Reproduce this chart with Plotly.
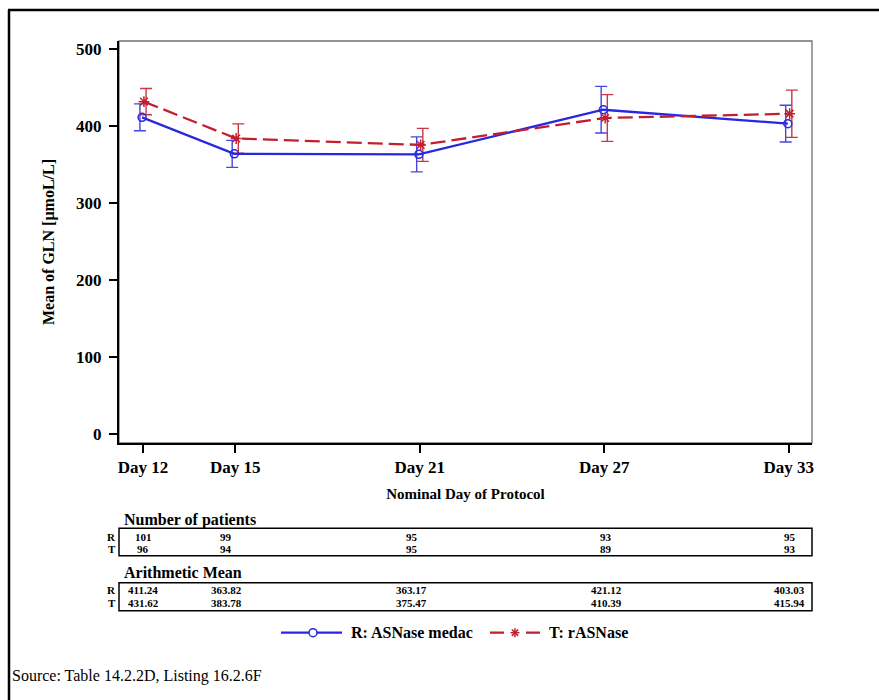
import plotly.graph_objects as go

# ---- data -------------------------------------------------------------
days = [12, 15, 21, 27, 33]
day_labels = ["Day 12", "Day 15", "Day 21", "Day 27", "Day 33"]

r_name = "R: ASNase medac"
t_name = "T: rASNase"

r_mean = [411.24, 363.82, 363.17, 421.12, 403.03]
t_mean = [431.62, 383.78, 375.47, 410.39, 415.94]

# half-width of the interval drawn around each mean
r_err = [17.5, 17.5, 22.7, 30.3, 23.9]
t_err = [17.0, 19.0, 21.4, 30.3, 30.7]

r_n = [101, 99, 95, 93, 95]
t_n = [96, 94, 95, 89, 93]

y_ticks = [0, 100, 200, 300, 400, 500]

# ---- layout constants (pixels) ---------------------------------------
W, H = 879, 700
L, R_EDGE, T_EDGE, B_EDGE = 119, 812, 41, 443
PW, PH = R_EDGE - L, B_EDGE - T_EDGE

FONT = "Liberation Serif"
BLUE = "rgb(40,40,225)"
BLUE_EB = "rgb(70,70,225)"
RED = "rgb(195,30,45)"
RED_EB = "rgb(200,55,70)"


def px_x(p):
    return (p - L) / PW


def px_y(p):
    return (B_EDGE - p) / PH


fig = go.Figure()

# error bars, slightly separated so both groups stay visible
for name, mean, err, col, dx in [(r_name, r_mean, r_err, BLUE_EB, -0.1),
                                 (t_name, t_mean, t_err, RED_EB, 0.1)]:
    fig.add_trace(go.Scatter(
        x=[d + dx for d in days], y=mean, mode="markers",
        marker=dict(size=1, opacity=0), showlegend=False, hoverinfo="skip",
        error_y=dict(type="data", array=err, visible=True, color=col,
                     thickness=1.4, width=6),
    ))

fig.add_trace(go.Scatter(
    x=[d - 0.03 for d in days], y=r_mean, mode="lines+markers", name=r_name,
    line=dict(color=BLUE, width=2.3),
    marker=dict(symbol="circle-open", size=8, color=BLUE, line=dict(width=1.5)),
    showlegend=False,
))
fig.add_trace(go.Scatter(
    x=[d + 0.03 for d in days], y=t_mean, mode="lines+markers", name=t_name,
    line=dict(color=RED, width=2.3, dash="15px,6px"),
    marker=dict(symbol="asterisk-open", size=9, color=RED, line=dict(width=1.5, color=RED)),
    showlegend=False,
))

shapes = []
annotations = []

# outer page frame (top and left edges)
shapes.append(dict(type="line", xref="paper", yref="paper",
                   x0=px_x(8), x1=px_x(W + 5), y0=px_y(10), y1=px_y(10),
                   line=dict(color="black", width=2.5)))
shapes.append(dict(type="line", xref="paper", yref="paper",
                   x0=px_x(9), x1=px_x(9), y0=px_y(10), y1=px_y(H + 5),
                   line=dict(color="black", width=2.5)))
# plot frame top/right
shapes.append(dict(type="rect", xref="paper", yref="paper", x0=0, x1=1, y0=0, y1=1,
                   line=dict(color="#707070", width=1.3), layer="below"))

# summary tables
TABLE_NUDGE = [0, -9, -8, 2, 1]
tables = [
    ("Number of patients", 520, (528.3, 555.7), (536.5, 548.5),
     [str(v) for v in r_n], [str(v) for v in t_n]),
    ("Arithmetic Mean", 572, (582.7, 610.7), (590, 603),
     [f"{v:.2f}" for v in r_mean], [f"{v:.2f}" for v in t_mean]),
]
for title, ty, (b0, b1), (ry, ty2), rvals, tvals in tables:
    shapes.append(dict(type="rect", xref="paper", yref="paper",
                       x0=0, x1=1, y0=px_y(b1), y1=px_y(b0),
                       line=dict(color="black", width=1.5)))
    annotations.append(dict(text=f"<b>{title}</b>", xref="paper", yref="paper",
                            x=px_x(122), y=px_y(ty), xanchor="left", yanchor="middle",
                            showarrow=False, font=dict(family=FONT, size=16, color="black")))
    for lab, yy, vals in [("R", ry, rvals), ("T", ty2, tvals)]:
        annotations.append(dict(text=f"<b>{lab}</b>", xref="paper", yref="paper",
                                x=px_x(118), y=px_y(yy), xanchor="right", yanchor="middle",
                                showarrow=False,
                                font=dict(family=FONT, size=11, color="black")))
        for d, v, nd in zip(days, vals, TABLE_NUDGE):
            annotations.append(dict(text=f"<b>{v}</b>", xref="x", yref="paper",
                                    x=d, y=px_y(yy), xshift=nd, xanchor="center",
                                    yanchor="middle", showarrow=False,
                                    font=dict(family=FONT, size=11, color="black")))

# legend: line samples, key symbols and labels
LEG_Y = 632.7
shapes.append(dict(type="line", xref="paper", yref="paper",
                   x0=px_x(281), x1=px_x(342), y0=px_y(LEG_Y), y1=px_y(LEG_Y),
                   line=dict(color=BLUE, width=2.3)))
shapes.append(dict(type="circle", xref="paper", yref="paper",
                   xsizemode="pixel", ysizemode="pixel",
                   xanchor=px_x(313), yanchor=px_y(LEG_Y),
                   x0=-4, x1=4, y0=-4, y1=4,
                   fillcolor="white", line=dict(color=BLUE, width=1.5)))
shapes.append(dict(type="line", xref="paper", yref="paper",
                   x0=px_x(490), x1=px_x(540), y0=px_y(LEG_Y), y1=px_y(LEG_Y),
                   line=dict(color=RED, width=2.3, dash="14px,22px")))
for (ax, ay) in [(4.5, 0), (0, 4.5), (3.2, 3.2), (3.2, -3.2)]:
    shapes.append(dict(type="line", xref="paper", yref="paper",
                       xsizemode="pixel", ysizemode="pixel",
                       xanchor=px_x(515), yanchor=px_y(LEG_Y),
                       x0=-ax, x1=ax, y0=-ay, y1=ay,
                       line=dict(color=RED, width=1.5)))
annotations.append(dict(text=f"<b>{r_name}</b>", xref="paper", yref="paper",
                        x=px_x(349), y=px_y(LEG_Y), xanchor="left", yanchor="middle",
                        showarrow=False, font=dict(family=FONT, size=16, color="black")))
annotations.append(dict(text=f"<b>{t_name}</b>", xref="paper", yref="paper",
                        x=px_x(547), y=px_y(LEG_Y), xanchor="left", yanchor="middle",
                        showarrow=False, font=dict(family=FONT, size=16, color="black")))

annotations.append(dict(text="Source: Table 14.2.2D, Listing 16.2.6F", xref="paper", yref="paper",
                        x=px_x(10), y=px_y(676), xanchor="left", yanchor="middle",
                        showarrow=False, font=dict(family=FONT, size=16, color="black")))

x_lo = 12 - (143 - L) / 30.75
x_hi = 12 + (R_EDGE - 143) / 30.75
y_per_px = 500 / (434 - 49)
y_lo = -(B_EDGE - 434) * y_per_px
y_hi = 500 + (49 - T_EDGE) * y_per_px

fig.update_layout(
    width=W, height=H,
    margin=dict(l=L, r=W - R_EDGE, t=T_EDGE, b=H - B_EDGE),
    paper_bgcolor="white", plot_bgcolor="white",
    font=dict(family=FONT, color="black"),
    shapes=shapes, annotations=annotations,
    xaxis=dict(range=[x_lo, x_hi], tickvals=days, ticktext=[f"<b>{t}</b>" for t in day_labels],
               showgrid=False, zeroline=False, showline=True, linecolor="black", linewidth=2,
               ticks="outside", ticklen=8, tickwidth=1.5, tickcolor="black",
               tickfont=dict(family=FONT, size=17),
               title=dict(text="<b>Nominal Day of Protocol</b>", font=dict(family=FONT, size=15),
                          standoff=12)),
    yaxis=dict(range=[y_lo, y_hi], tickvals=y_ticks, ticktext=[f"<b>{v}</b>" for v in y_ticks],
               showgrid=False, zeroline=False, showline=True, linecolor="black", linewidth=2,
               ticks="outside", ticklen=8, tickwidth=1.5, tickcolor="black",
               ticklabelstandoff=4,
               tickfont=dict(family=FONT, size=17),
               title=dict(text="<b>Mean of GLN [µmoL/L]</b>", font=dict(family=FONT, size=16),
                          standoff=17)),
    showlegend=False,
)

fig.write_html("out.html")
